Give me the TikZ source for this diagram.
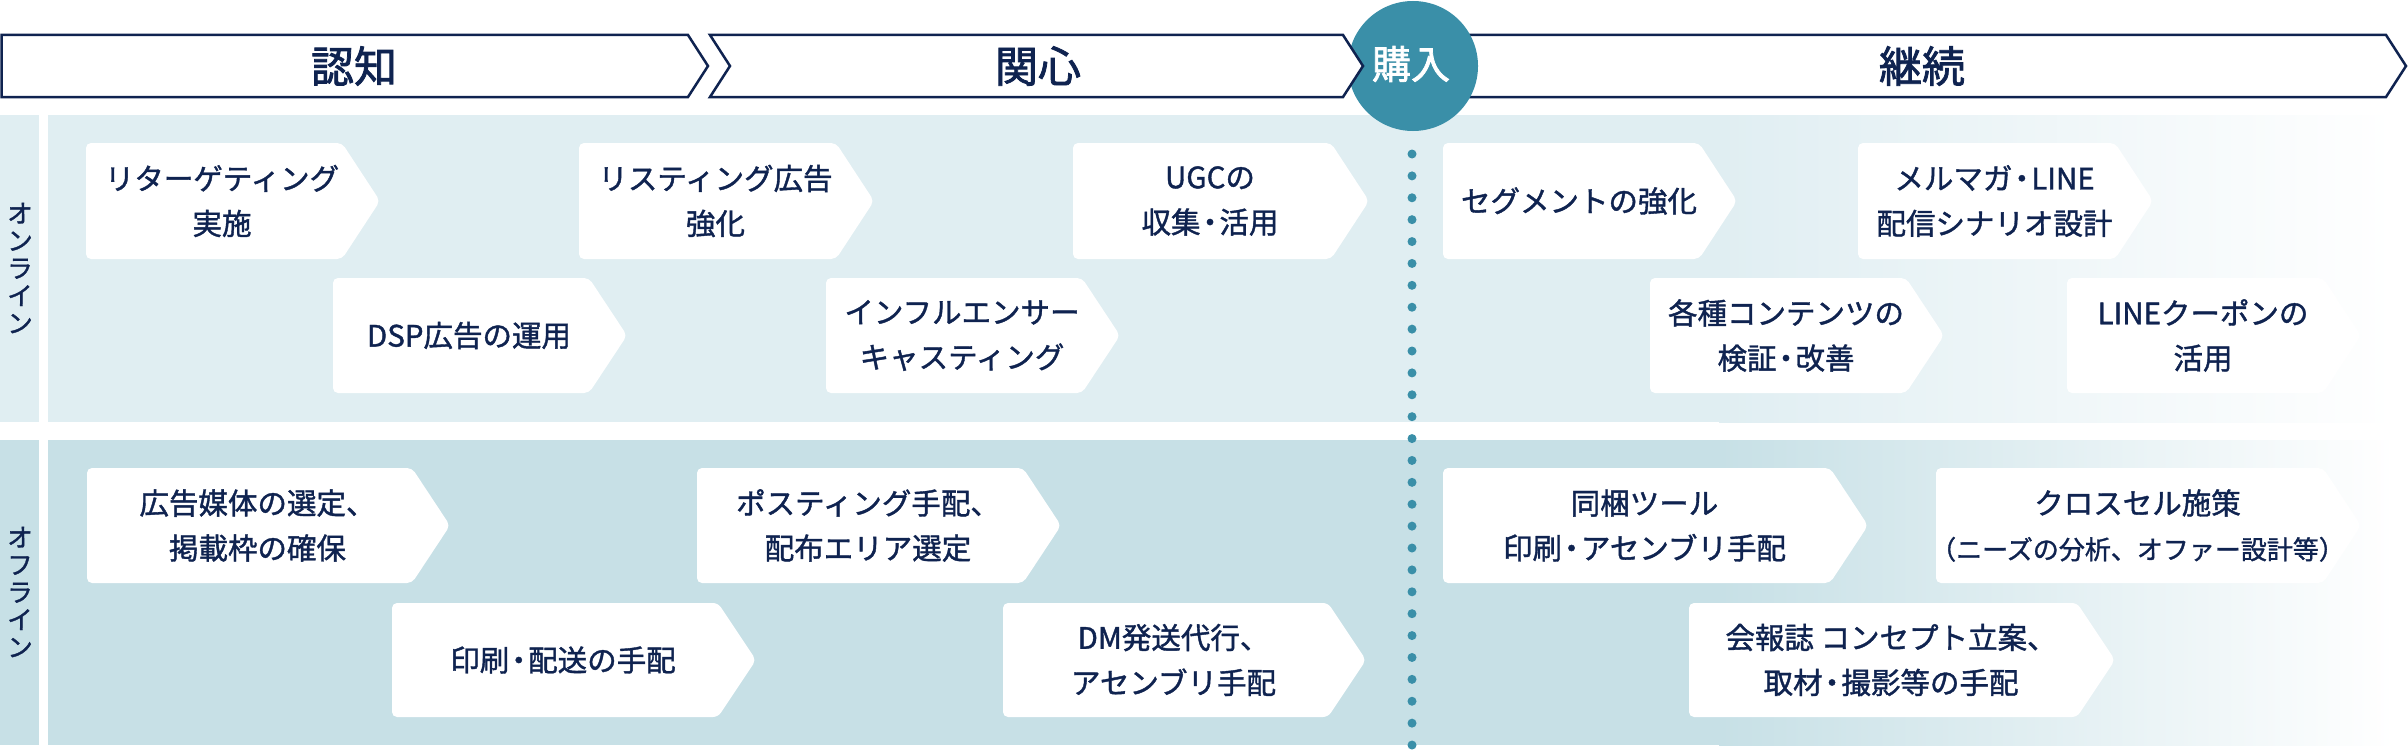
\documentclass[tikz,border=0pt]{standalone}
\usepackage{fontspec}
\newfontfamily\jp{Noto Sans CJK JP}[FakeBold=1.3]
\newfontfamily\jpb{Noto Sans CJK JP}[FakeBold=1.8]
\definecolor{navy}{HTML}{0F2350}
\definecolor{tealc}{HTML}{3A8FA8}
\definecolor{bandA}{HTML}{E0EEF2}
\definecolor{bandB}{HTML}{C7E0E6}
\newcommand{\nd}{\kern-0.18em・\kern-0.18em}
\tikzset{
  itemtext/.style={font=\jp\fontsize{29.5}{45}\selectfont, text=navy, align=center, inner sep=0pt},
  hdrtext/.style={font=\jpb\fontsize{43}{50}\selectfont, text=navy, inner sep=0pt},
  buytext/.style={font=\jpb\fontsize{39}{45}\selectfont, text=white, inner sep=0pt},
  sidetext/.style={font=\jp\fontsize{25.5}{27.5}\selectfont, text=navy, align=center, inner sep=0pt},
  hdrarrow/.style={draw=navy, fill=white, line width=2.5pt, line join=miter},
  chevfill/.style={fill=white, rounded corners=5pt}
}
\newcommand{\chevbox}[6]{%
  \fill[chevfill] (#2,#4) -- (#3,#4) -- ({#3+38},{(#4+#5)/2}) -- (#3,#5) -- (#2,#5) -- cycle;
  \node[itemtext] (#1) at ({(#2+#3)/2+8},{(#4+#5)/2}) {#6};}
\begin{document}
\begin{tikzpicture}[x=1pt,y=-1pt]
\useasboundingbox[fill=white] (0,0) rectangle (2408,752);
% bands
\fill[bandA] (0,115) rectangle (39,422);
\fill[bandA] (48,115) rectangle (1720,422);
\shade[left color=bandA, right color=white] (1719,115) rectangle (2394,422);
\fill[bandB] (0,440) rectangle (39,745);
\fill[bandB] (48,440) rectangle (1720,745);
\shade[left color=bandB, right color=white] (1719,440) rectangle (2394,745);
% side labels
\node[sidetext] (lon) at (20,268) {オ\\ン\\ラ\\イ\\ン};
\node[sidetext] (loff) at (20,592) {オ\\フ\\ラ\\イ\\ン};
% header
\draw[hdrarrow] (1.5,35) -- (688,35) -- (708,66) -- (688,97) -- (1.5,97) -- cycle;
\draw[hdrarrow] (1420,35) -- (2386,35) -- (2406,66) -- (2386,97) -- (1420,97) -- cycle;
\fill[tealc] (1413,66) circle[radius=65pt];
\draw[hdrarrow] (710,35) -- (1343,35) -- (1363,66) -- (1343,97) -- (710,97) -- (730,66) -- cycle;
\node[hdrtext] (h1) at (354,66) {認知};
\node[hdrtext] (h2) at (1038,66) {関心};
\node[hdrtext] (h3) at (1922,66) {継続};
\node[buytext] (buy) at (1411,64) {購入};
% dotted line
\foreach \i in {0,...,27} {\fill[tealc] (1412,{154+21.89*\i}) circle[radius=4.5pt];}
% online
\chevbox{o1}{86}{342}{143}{259}{リターゲティング\\実施}
\chevbox{o2}{333}{589}{278}{393}{DSP広告の運用}
\chevbox{o3}{579}{836}{143}{259}{リスティング広告\\強化}
\chevbox{o4}{826}{1082}{278}{393}{インフルエンサー\\キャスティング}
\chevbox{o5}{1073}{1331}{143}{259}{UGCの\\収集\nd 活用}
\chevbox{o6}{1443}{1699}{143}{259}{セグメントの強化}
\chevbox{o7}{1650}{1906}{278}{393}{各種コンテンツの\\検証\nd 改善}
\chevbox{o8}{1858}{2115}{143}{259}{メルマガ\nd LINE\\配信シナリオ設計}
\chevbox{o9}{2067}{2323}{278}{393}{LINEクーポンの\\活用}
% offline
\chevbox{f1}{87}{412}{468}{583}{広告媒体の選定、\\掲載枠の確保}
\chevbox{f2}{392}{718}{603}{717}{印刷\nd 配送の手配}
\chevbox{f3}{697}{1023}{468}{583}{ポスティング手配、\\配布エリア選定}
\chevbox{f4}{1003}{1328}{603}{717}{DM発送代行、\\アセンブリ手配}
\chevbox{f5}{1443}{1830}{468}{583}{同梱ツール\\印刷\nd アセンブリ手配}
\chevbox{f6}{1936}{2323}{468}{583}{クロスセル施策\\{\fontsize{26}{43}\selectfont （ニーズの分析、オファー設計等）}}
\chevbox{f7}{1689}{2077}{603}{717}{会報誌 コンセプト立案、\\取材\nd 撮影等の手配}
\end{tikzpicture}
\end{document}
